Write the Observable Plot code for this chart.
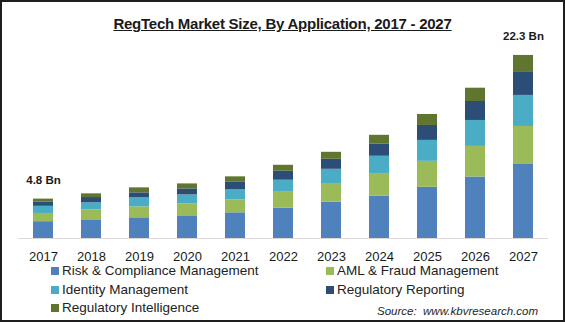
<!DOCTYPE html>
<html>
<head>
<meta charset="utf-8">
<script src="https://cdn.jsdelivr.net/npm/d3@7"></script>
<script src="https://cdn.jsdelivr.net/npm/@observablehq/plot@0.6"></script>
<style>
  body { margin: 0; background: #fff; }
  #wrap { position: relative; width: 565px; height: 322px; background: #fff; overflow: hidden;
          font-family: "Liberation Sans", Arial, sans-serif; color: #1a1a1a; }
  #frame { position: absolute; left: 0; top: 0; width: 565px; height: 322px; box-sizing: border-box;
           border: 2px solid #1e1e1e; pointer-events: none; }
  #title { position: absolute; left: 0; width: 565px; top: 15px; text-align: center; font-size: 15px;
           line-height: 18px; font-weight: bold; letter-spacing: -0.25px; text-decoration: underline; }
  #chart { position: absolute; left: 0; top: 0; }
  .lg { position: absolute; font-size: 13.5px; line-height: 12px; white-space: nowrap; color: #222; }
  .sw { position: absolute; width: 8px; height: 8px; }
  #source { position: absolute; left: 377px; top: 304px; font-size: 11.5px; line-height: 14px;
            font-style: italic; color: #262626; white-space: nowrap; }
</style>
</head>
<body>
<div id="wrap">
  <div id="chart"></div>
  <div id="title">RegTech Market Size, By Application, 2017 - 2027</div>
  <div id="legend"></div>
  <div id="source">Source:&nbsp; www.kbvresearch.com</div>
  <div id="frame"></div>
</div>
<script>
const years = ["2017","2018","2019","2020","2021","2022","2023","2024","2025","2026","2027"];
const seriesNames = ["Risk & Compliance Management", "AML & Fraud Management", "Identity Management", "Regulatory Reporting", "Regulatory Intelligence"];
const seriesColors = ["#4F81BD", "#9BBB59", "#4BACC6", "#2C4D75", "#5F7530"];
const riskCompliance = [2.05, 2.27, 2.52, 2.76, 3.13, 3.69, 4.42, 5.15, 6.24, 7.49, 9.02];
const amlFraud       = [1.00, 1.22, 1.34, 1.46, 1.58, 1.95, 2.19, 2.68, 3.16, 3.73, 4.63];
const identity       = [0.87, 0.85, 1.09, 1.09, 1.22, 1.46, 1.82, 2.19, 2.55, 3.16, 3.78];
const reporting      = [0.50, 0.65, 0.61, 0.73, 0.97, 1.09, 1.22, 1.46, 1.82, 2.31, 2.80];
const intelligence   = [0.38, 0.45, 0.61, 0.61, 0.61, 0.73, 0.85, 1.09, 1.34, 1.62, 2.07];
const labelYears = ["2017", "2027"];
const labelTexts = ["4.8 Bn", "22.3 Bn"];

const seriesValues = [riskCompliance, amlFraud, identity, reporting, intelligence];
const rows = [];
seriesValues.forEach((vals, si) => vals.forEach((v, i) => rows.push({year: years[i], segment: seriesNames[si], value: v})));
const totals = years.map((y, i) => seriesValues.reduce((s, arr) => s + arr[i], 0));
const labelRows = labelYears.map((y, k) => ({year: y, total: totals[years.indexOf(y)], text: labelTexts[k]}));

const plot = Plot.plot({
  width: 565,
  height: 268,
  marginLeft: 18,
  marginRight: 17,
  marginTop: 41,
  marginBottom: 30,
  style: {fontFamily: "'Liberation Sans', Arial, sans-serif", fontSize: "13px", color: "#1a1a1a", background: "transparent"},
  x: {domain: years, paddingInner: 0.58, paddingOuter: 0.29, label: null, tickSize: 0, tickPadding: 13},
  y: {domain: [0, 24], axis: null},
  color: {domain: seriesNames, range: seriesColors},
  marks: [
    Plot.barY(rows, {x: "year", y: "value", fill: "segment"}),
    Plot.ruleY([0], {stroke: "#d9d9d9", strokeWidth: 1}),
    Plot.text(labelRows, {x: "year", y: "total", text: "text", dy: -19, fontWeight: "bold", fontSize: 11.5, fill: "#1a1a1a"})
  ]
});
document.getElementById("chart").appendChild(plot);

// legend
const legend = document.getElementById("legend");
const cols = [{sw: 51, tx: 62}, {sw: 326, tx: 337}];
const rowTops = [265, 284, 302];
seriesNames.forEach((name, i) => {
  const c = cols[i % 2], r = rowTops[Math.floor(i / 2)];
  const sw = document.createElement("div");
  sw.className = "sw";
  sw.style.left = c.sw + "px";
  sw.style.top = (r + 2) + "px";
  sw.style.background = seriesColors[i];
  legend.appendChild(sw);
  const tx = document.createElement("div");
  tx.className = "lg";
  tx.style.left = c.tx + "px";
  tx.style.top = r + "px";
  tx.textContent = name;
  legend.appendChild(tx);
});
</script>
</body>
</html>
